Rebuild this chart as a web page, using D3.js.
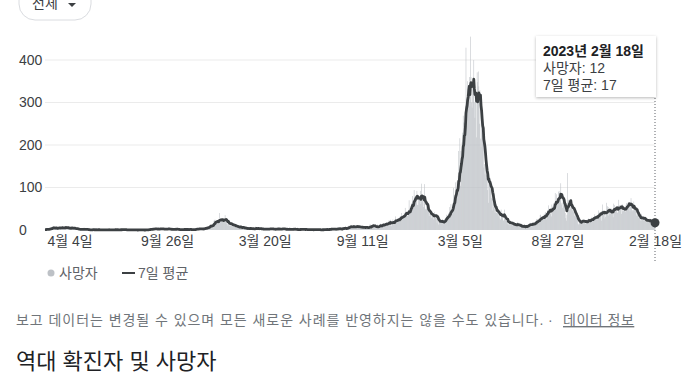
<!DOCTYPE html>
<html>
<head>
<meta charset="utf-8">
<script src="https://cdn.jsdelivr.net/npm/d3@7"></script>
<style>
  body { margin: 0; background: #fff; }
  svg text { font-family: "Liberation Sans", Arial, "Noto Sans CJK KR", sans-serif; }
</style>
</head>
<body>
<div id="vis"></div>
<script>
// daily deaths, one array per year; each year starts at its own first date
const START_2020 = "2020-02-20";
const deaths2020 = [
  1,1,0,4,2,1,2,1,2,3,                                                  // feb 20-29
  4,6,4,3,7,7,6,2,3,3,6,6,3,6,3,6,6,3,7,3,8,2,9,2,5,5,8,6,6,6,4,        // mar
  4,4,5,3,6,3,4,8,4,4,3,3,5,3,3,3,3,2,2,1,1,1,2,1,2,2,1,2,2,1,          // apr
  2,0,2,2,2,0,1,0,0,0,0,2,0,1,0,1,1,0,0,1,0,1,0,1,1,0,1,0,0,0,1,        // may
  0,1,0,1,0,0,0,1,0,1,0,1,0,1,0,0,1,0,0,1,1,0,0,1,1,0,1,0,1,0,          // jun
  0,0,1,1,1,1,0,1,2,1,1,0,0,0,1,0,0,0,1,0,0,0,1,0,0,1,0,1,0,0,0,        // jul
  0,0,0,0,0,1,0,0,1,0,0,0,0,0,0,0,0,0,1,0,0,1,1,0,2,1,2,3,1,1,2,        // aug
  2,5,2,4,3,2,2,0,3,2,5,2,2,4,2,1,3,4,1,2,2,1,1,5,2,3,1,2,5,1,          // sep
  1,2,1,0,2,2,1,1,3,2,1,3,1,2,1,1,0,1,1,0,2,1,2,0,1,1,2,1,2,0,1,        // oct
  1,1,2,0,2,2,1,0,1,0,1,1,1,2,0,2,2,3,3,2,2,2,4,2,3,3,1,3,2,2,          // nov
  5,4,5,6,4,3,3,9,7,8,12,6,13,11,6,10,15,12,22,24,17,24,17,17,20,24,15,25,40,20,21 // dec
];
const START_2021 = "2021-01-01";
const deaths2021 = [
  25,19,20,25,26,26,19,35,19,24,15,14,10,23,17,10,19,11,14,10,15,9,12,11,10,11,8,6,9,8,7,
  8,5,6,6,11,4,3,6,7,7,3,5,4,2,2,6,3,6,2,1,3,5,3,5,3,1,3,1,
  3,3,5,8,2,1,2,5,3,3,5,3,2,2,1,4,2,0,3,3,1,3,2,2,2,2,1,2,5,3,2,
  2,4,2,1,3,0,1,3,2,3,3,3,2,2,1,3,1,3,1,3,5,2,2,3,2,0,0,3,2,2,
  2,1,2,1,2,1,2,2,1,1,4,1,2,3,0,0,2,0,1,1,2,2,0,2,1,1,2,2,2,0,1,
  0,3,1,1,0,1,0,1,2,0,1,1,0,1,0,1,1,1,1,0,1,2,1,0,1,0,1,0,0,1,
  0,2,1,0,1,2,0,2,1,1,1,0,2,2,1,2,4,1,2,3,1,3,2,1,1,1,4,2,3,6,2,
  2,3,1,2,2,2,7,5,4,5,2,4,1,2,7,7,10,6,5,7,7,12,6,9,6,7,5,11,6,9,9,
  8,6,11,5,9,5,6,8,5,8,7,4,5,8,7,4,6,8,4,7,4,6,5,8,14,7,5,11,9,13,
  12,11,6,8,4,5,8,13,9,6,9,8,12,15,9,7,12,13,15,10,15,14,13,17,9,17,17,14,23,20,10,
  24,9,16,18,25,20,15,19,20,32,21,26,22,19,28,21,30,33,29,40,24,28,30,34,39,32,52,39,44,34,
  33,38,43,70,41,40,57,63,53,80,63,52,94,73,78,80,82,92,59,59,75,80,78,92,61,109,67,72,70,54,63
];
const START_2022 = "2022-01-01";
const deaths2022 = [
  108,50,48,58,49,50,43,45,33,39,46,39,29,36,35,30,25,37,42,33,34,35,17,25,22,13,20,23,24,20,19,
  21,18,13,19,21,26,28,29,36,29,27,32,40,31,54,41,61,38,49,48,57,99,82,75,112,90,80,114,
  96,128,186,112,216,104,186,158,206,229,269,253,251,200,293,429,301,319,350,300,310,360,291,455,360,300,288,350,330,400,300,
  264,306,305,218,371,348,373,338,250,329,215,196,264,240,223,212,147,155,131,163,122,129,133,94,64,136,115,123,96,95,
  75,46,73,71,53,56,41,47,40,41,43,55,40,32,34,27,24,48,40,36,35,22,23,48,27,24,22,22,15,19,13,
  21,20,11,22,13,16,11,19,12,11,11,14,12,9,14,13,19,7,10,12,6,6,15,8,7,6,10,8,9,7,
  6,12,7,8,13,12,13,14,17,10,9,12,18,13,18,16,10,17,21,19,26,25,17,19,27,17,35,36,29,27,29,
  28,26,37,30,41,42,25,39,47,41,58,43,49,50,39,32,60,52,56,63,49,51,87,67,84,49,70,65,90,92,78,
  87,110,60,64,52,80,68,63,58,40,28,22,36,134,55,71,69,48,50,57,63,55,46,49,42,44,33,38,34,29,
  27,23,15,13,25,17,22,17,18,22,22,26,20,17,19,14,23,22,20,18,26,27,21,17,20,27,28,31,26,21,30,
  26,37,33,29,33,26,25,38,46,40,42,38,38,22,44,60,40,46,42,27,31,36,64,43,56,54,34,40,37,44,
  52,47,41,48,30,62,59,48,52,55,50,42,40,53,71,48,59,54,54,38,61,44,55,45,53,46,43,59,63,64,58
];
const START_2023 = "2023-01-01";
const deaths2023 = [
  59,66,64,44,63,75,54,44,47,46,67,51,47,49,45,34,41,37,34,28,27,30,23,21,38,33,27,27,22,23,25,
  28,20,18,22,25,19,24,23,27,16,15,16,21,19,20,17,14,12
];

const Y_TICKS = [0, 100, 200, 300, 400];
const X_TICKS = ["2020-04-04", "2020-09-26", "2021-03-20", "2021-09-11", "2022-03-05", "2022-08-27", "2023-02-18"];

// frame
const FRAME_WIDTH = 691;
const FRAME_HEIGHT = 373;
const PLOT = {left: 45, right: 655, top: 60, bottom: 230};

const FRAME = d3.select("#vis")
  .append("svg")
    .attr("width", FRAME_WIDTH)
    .attr("height", FRAME_HEIGHT);

// join the years into one daily list
const parse = d3.utcParse("%Y-%m-%d");
let data = [];
[[START_2020, deaths2020], [START_2021, deaths2021], [START_2022, deaths2022], [START_2023, deaths2023]]
  .forEach(([s, arr]) => {
    const d0 = parse(s);
    arr.forEach((v, i) => data.push({date: d3.utcDay.offset(d0, i), deaths: v}));
  });

// 7 day average
data.forEach((d, i) => {
  const w = data.slice(Math.max(0, i - 6), i + 1);
  d.avg = d3.mean(w, (e) => e.deaths);
});

const FIRST = data[0].date;
const LAST = data[data.length - 1].date;

const X_SCALE = d3.scaleUtc().domain([FIRST, LAST]).range([PLOT.left, PLOT.right]);
const Y_SCALE = d3.scaleLinear().domain([0, 400]).range([PLOT.bottom, PLOT.top]);

// dropdown (cut at top, like the page)
FRAME.append("rect")
  .attr("x", 19).attr("y", -16).attr("width", 72).attr("height", 36)
  .attr("rx", 16)
  .attr("fill", "#fff").attr("stroke", "#dadce0");
FRAME.append("text")
  .attr("x", 32).attr("y", 8)
  .attr("font-size", "14px").attr("fill", "#3c4043")
  .text("전체");
FRAME.append("path")
  .attr("d", "M68,3 L76,3 L72,7 Z")
  .attr("fill", "#3c4043");

// gridlines
FRAME.append("g")
  .selectAll("line")
  .data(Y_TICKS.slice(1))
  .enter()
  .append("line")
    .attr("x1", PLOT.left).attr("x2", PLOT.right)
    .attr("y1", (d) => Y_SCALE(d)).attr("y2", (d) => Y_SCALE(d))
    .attr("stroke", "#ebebeb");

// y axis
const yAxis = FRAME.append("g")
  .attr("transform", "translate(" + PLOT.left + ",0)")
  .call(d3.axisLeft(Y_SCALE).tickValues(Y_TICKS).tickSize(0));
yAxis.select(".domain").remove();
yAxis.selectAll("text")
  .attr("x", 19 - PLOT.left)
  .attr("text-anchor", "start")
  .attr("font-size", "14px")
  .attr("font-family", null)
  .attr("fill", "#3c4043");

// bars
const BAR_W = X_SCALE(d3.utcDay.offset(FIRST, 1)) - X_SCALE(FIRST);
FRAME.append("g")
  .selectAll("rect")
  .data(data)
  .enter()
  .append("rect")
    .attr("x", (d) => X_SCALE(d.date) - BAR_W / 2)
    .attr("y", (d) => Y_SCALE(d.deaths))
    .attr("width", BAR_W)
    .attr("height", (d) => PLOT.bottom - Y_SCALE(d.deaths))
    .attr("fill", "#bdc1c6");

// 7 day average line
FRAME.append("path")
  .datum(data)
  .attr("d", d3.line().x((d) => X_SCALE(d.date)).y((d) => Y_SCALE(d.avg)))
  .attr("fill", "none")
  .attr("stroke", "#3c4043")
  .attr("stroke-width", 2.8)
  .attr("stroke-linejoin", "round");

// x axis
const fmt = (d) => (d.getUTCMonth() + 1) + "월 " + d.getUTCDate() + "일";
const xAxis = FRAME.append("g")
  .attr("transform", "translate(0," + PLOT.bottom + ")")
  .call(d3.axisBottom(X_SCALE).tickValues(X_TICKS.map(parse)).tickSize(0).tickFormat(fmt));
xAxis.select(".domain").remove();
xAxis.selectAll("text")
  .attr("y", 6)
  .attr("font-size", "14px")
  .attr("font-family", null)
  .attr("fill", "#3c4043");

// hover marker on last day
const last = data[data.length - 1];
FRAME.append("line")
  .attr("x1", X_SCALE(last.date)).attr("x2", X_SCALE(last.date))
  .attr("y1", 98).attr("y2", 262)
  .attr("stroke", "#5f6368").attr("stroke-dasharray", "1,2");
FRAME.append("circle")
  .attr("cx", X_SCALE(last.date)).attr("cy", Y_SCALE(last.avg))
  .attr("r", 4.5)
  .attr("fill", "#3c4043");

// tooltip
const defs = FRAME.append("defs");
defs.append("filter").attr("id", "shadow")
  .attr("x", "-20%").attr("y", "-20%").attr("width", "140%").attr("height", "150%")
  .append("feDropShadow")
    .attr("dx", 0).attr("dy", 1).attr("stdDeviation", 1.5)
    .attr("flood-color", "#000").attr("flood-opacity", 0.28);
FRAME.append("rect")
  .attr("x", 536).attr("y", 36).attr("width", 120).attr("height", 61)
  .attr("fill", "#fff")
  .attr("filter", "url(#shadow)");
const tipDate = last.date.getUTCFullYear() + "년 " + fmt(last.date);
FRAME.append("text")
  .attr("x", 543).attr("y", 56)
  .attr("font-size", "14px").attr("font-weight", "bold").attr("fill", "#202124")
  .text(tipDate);
FRAME.append("text")
  .attr("x", 543).attr("y", 73)
  .attr("font-size", "14px").attr("fill", "#3c4043")
  .text("사망자: " + last.deaths);
FRAME.append("text")
  .attr("x", 543).attr("y", 90)
  .attr("font-size", "14px").attr("fill", "#3c4043")
  .text("7일 평균: " + Math.round(last.avg));

// legend
FRAME.append("circle")
  .attr("cx", 51).attr("cy", 273).attr("r", 3.5)
  .attr("fill", "#bdc1c6");
FRAME.append("text")
  .attr("x", 59).attr("y", 278)
  .attr("font-size", "14px").attr("fill", "#5f6368")
  .text("사망자");
FRAME.append("line")
  .attr("x1", 122).attr("x2", 135).attr("y1", 273).attr("y2", 273)
  .attr("stroke", "#3c4043").attr("stroke-width", 2);
FRAME.append("text")
  .attr("x", 138).attr("y", 278)
  .attr("font-size", "14px").attr("fill", "#5f6368")
  .text("7일 평균");

// footer
const foot = FRAME.append("text")
  .attr("x", 16).attr("y", 325)
  .attr("font-size", "14px").attr("fill", "#70757a");
foot.append("tspan").attr("letter-spacing", "0.95px")
  .text("보고 데이터는 변경될 수 있으며 모든 새로운 사례를 반영하지는 않을 수도 있습니다.");
foot.append("tspan").attr("x", 548).text("·");
foot.append("tspan").attr("x", 563).attr("letter-spacing", "0.5px")
  .attr("text-decoration", "underline").text("데이터 정보");

FRAME.append("text")
  .attr("x", 16).attr("y", 369)
  .attr("font-size", "22px").attr("fill", "#202124")
  .text("역대 확진자 및 사망자");
</script>
</body>
</html>
